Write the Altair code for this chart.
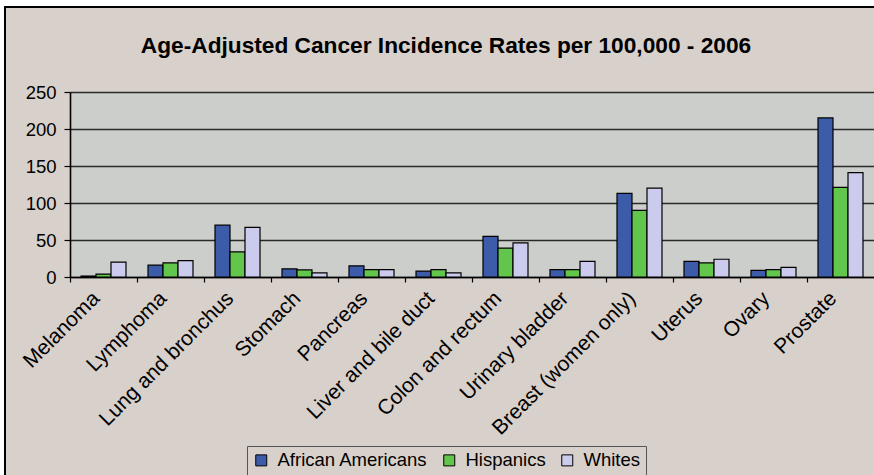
import altair as alt
import pandas as pd

categories = ["Melanoma", "Lymphoma", "Lung and bronchus", "Stomach", "Pancreas",
              "Liver and bile duct", "Colon and rectum", "Urinary bladder",
              "Breast (women only)", "Uterus", "Ovary", "Prostate"]
series = ["African Americans", "Hispanics", "Whites"]
african_americans = [1.3, 16, 70, 11, 15, 8, 55, 10, 113, 21, 9, 215]
hispanics = [4, 19, 34, 9.5, 10, 10, 39, 10, 90, 19, 10, 121]
whites = [20, 22, 67, 5.5, 10, 5.5, 46, 21, 120, 24, 13, 141]
colors = ["#3c5ba9", "#62c64c", "#cbcbee"]
y_ticks = [0, 50, 100, 150, 200, 250]
title_text = "Age-Adjusted Cancer Incidence Rates per 100,000 - 2006"

rows = []
for s, vals in zip(series, [african_americans, hispanics, whites]):
    for c, v in zip(categories, vals):
        rows.append({"Site": c, "Group": s, "Rate": v})
df = pd.DataFrame(rows)

W, H = 804, 185
FONT = "Liberation Sans"
BG = "#d8d0ca"

bars = alt.Chart(df).mark_bar(stroke="black", strokeWidth=1.2).encode(
    x=alt.X("Site:N", sort=categories,
            scale=alt.Scale(paddingInner=0, paddingOuter=0),
            axis=alt.Axis(title=None, labelAngle=-45, labelAlign="right",
                          labelBaseline="middle", bandPosition=0, labelOffset=-7,
                          tickSize=5, tickColor="black", tickWidth=1.2,
                          domainColor="black", domainWidth=1.6,
                          labelFont=FONT, labelFontSize=21, labelColor="black",
                          labelPadding=13, labelLimit=400, labelOverlap=False,
                          labelFlush=False, grid=False)),
    xOffset=alt.XOffset("Group:N", sort=series,
                        scale=alt.Scale(paddingInner=0, paddingOuter=0.733)),
    y=alt.Y("Rate:Q", scale=alt.Scale(domain=[0, 250], nice=False),
            axis=alt.Axis(title=None, values=y_ticks, tickSize=6, tickColor="black",
                          tickWidth=1.2, domainColor="black", domainWidth=1.6,
                          labelFont=FONT, labelFontSize=18.5, labelColor="black",
                          labelPadding=8, grid=True, gridColor="#2a2a2a",
                          gridWidth=1.5)),
    color=alt.Color("Group:N", sort=series,
                    scale=alt.Scale(domain=series, range=colors),
                    legend=alt.Legend(title=None, orient="none", legendX=177,
                                      legendY=354, direction="horizontal",
                                      columns=3, fillColor=BG, strokeColor="#555555",
                                      padding=5, symbolType="square",
                                      symbolSize=121, symbolStrokeColor="black",
                                      symbolStrokeWidth=1, labelFont=FONT,
                                      labelFontSize=18.5, labelColor="black",
                                      labelOffset=7, columnPadding=12)),
)

one = alt.Data(values=[{"t": title_text}])
frame = alt.Chart(one).mark_rect(fill=None, stroke="black", strokeWidth=2).encode(
    x=alt.value(-65), x2=alt.value(900), y=alt.value(-85), y2=alt.value(500))
white_top = alt.Chart(one).mark_rect(fill="white").encode(
    x=alt.value(-70), x2=alt.value(874), y=alt.value(-92), y2=alt.value(-86))
white_left = alt.Chart(one).mark_rect(fill="white").encode(
    x=alt.value(-70), x2=alt.value(-66), y=alt.value(-92), y2=alt.value(383))
title = alt.Chart(one).mark_text(font=FONT, fontSize=22.7, fontWeight="bold",
                                 color="black", align="center",
                                 baseline="alphabetic").encode(
    text="t:N", x=alt.value(376), y=alt.value(-39))

chart = alt.layer(white_top, white_left, frame, title, bars).properties(
    width=W, height=H,
    autosize=alt.AutoSizeParams(type="none"),
    padding={"left": 70, "top": 92, "right": 0, "bottom": 198},
    background=BG,
).configure_view(fill="#cccecc", stroke=None)

chart.save("out.html", embed_options={"renderer": "svg", "actions": False})
